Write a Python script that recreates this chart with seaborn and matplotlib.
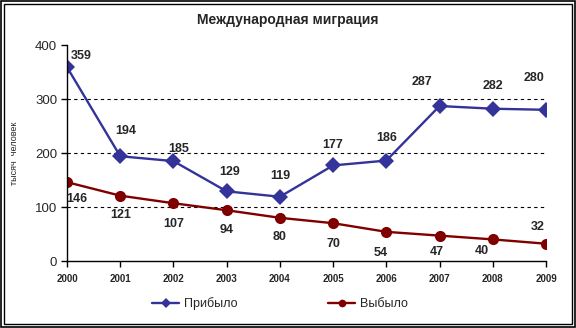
import matplotlib
matplotlib.use("Agg")
import matplotlib.pyplot as plt
import seaborn as sns
import pandas as pd
from matplotlib.patches import Rectangle
from matplotlib.lines import Line2D

years = [2000, 2001, 2002, 2003, 2004, 2005, 2006, 2007, 2008, 2009]
arrived = [359, 194, 185, 129, 119, 177, 186, 287, 282, 280]
departed = [146, 121, 107, 94, 80, 70, 54, 47, 40, 32]
series_names = ["Прибыло", "Выбыло"]
title = "Международная миграция"
ylabel = "тысяч  человек"
yticks = [0, 100, 200, 300, 400]

# label offsets in points (dx, dy)
off_arr = [(10, 8), (4, 18), (4, 9), (2, 14), (0, 15), (0, 15), (0, 16), (-13, 17), (0, 16), (-9, 23)]
off_dep = [(7, -12), (0, -14), (0, -15), (0, -14), (0, -14), (0, -15), (-4, -15), (-2, -12), (-8, -8), (-6, 12)]

sns.set_theme(style="white")
plt.rcParams["font.family"] = ["Liberation Sans", "DejaVu Sans"]

df = pd.DataFrame({
    "year": years * 2,
    "value": arrived + departed,
    "series": [series_names[0]] * len(years) + [series_names[1]] * len(years),
})

fig = plt.figure(figsize=(5.76, 3.28), dpi=100)
fig.patch.set_facecolor("white")
ax = fig.add_axes([67 / 576, 1 - 261 / 328, (546 - 67) / 576, (261 - 45) / 328])

colors = {"Прибыло": "#333399", "Выбыло": "#800000"}
sns.lineplot(data=df, x="year", y="value", hue="series", style="series",
             markers={"Прибыло": "D", "Выбыло": "o"}, dashes=False,
             palette=colors, linewidth=1.7, markersize=8, markeredgewidth=0,
             ax=ax, legend=False)

ax.set_xlim(years[0], years[-1])
ax.set_ylim(yticks[0], yticks[-1])
ax.set_xticks(years)
ax.set_xticklabels([str(y) for y in years], fontsize=7, fontweight="bold")
ax.set_yticks(yticks)
ax.set_yticklabels([str(t) for t in yticks], fontsize=9.5)
ax.set_xlabel("")
ax.set_ylabel(ylabel, fontsize=6.5)
ax.yaxis.set_label_coords(-0.1, 0.5)

for t in yticks[1:-1]:
    ax.axhline(t, color="black", linewidth=0.8, linestyle=(0, (3, 3)), zorder=0)

for s in ["top", "right"]:
    ax.spines[s].set_visible(False)
for s in ["left", "bottom"]:
    ax.spines[s].set_color("black")
    ax.spines[s].set_linewidth(1.0)
ax.tick_params(axis="both", which="major", direction="out", length=4, width=1,
               color="black", left=True, bottom=True, pad=3)
ax.tick_params(axis="x", pad=5)

for x, y, (dx, dy) in zip(years, arrived, off_arr):
    ax.annotate(str(y), (x, y), xytext=(dx, dy), textcoords="offset points",
                ha="center", va="center", fontsize=9, fontweight="bold")
for x, y, (dx, dy) in zip(years, departed, off_dep):
    ax.annotate(str(y), (x, y), xytext=(dx, dy), textcoords="offset points",
                ha="center", va="center", fontsize=9, fontweight="bold")

fig.text(0.5, 1 - 20 / 328, title, ha="center", va="center", fontsize=10, fontweight="bold")

handles = [Line2D([], [], color=colors[n], marker=m, markersize=5.5, linewidth=1.7, markeredgewidth=0)
           for n, m in zip(series_names, ["D", "o"])]
fig.legend(handles, series_names, loc="center", bbox_to_anchor=(280 / 576, 1 - 304 / 328),
           ncol=2, frameon=False, fontsize=9, columnspacing=7.3, handlelength=2.1, handletextpad=0.4)

fig.patches.append(Rectangle((1 / 576, 1 / 328), 574 / 576, 326 / 328, transform=fig.transFigure,
                             fill=False, edgecolor="black", linewidth=1.2))
fig.patches.append(Rectangle((4 / 576, 4 / 328), 568 / 576, 320 / 328, transform=fig.transFigure,
                             fill=False, edgecolor="black", linewidth=1.0))

fig.savefig("out.png", dpi=100)
